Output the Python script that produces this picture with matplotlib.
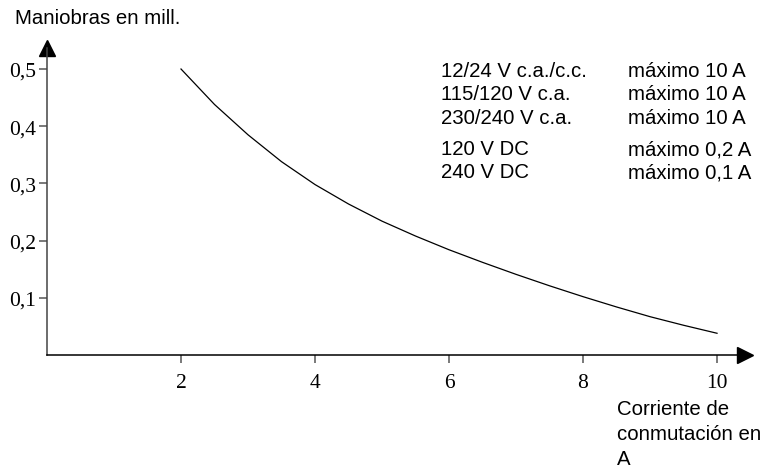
import matplotlib
matplotlib.use('Agg')
import matplotlib.pyplot as plt

# Curve (current in A -> operations in millions)
current = [2, 2.5, 3, 3.5, 4, 4.5, 5, 5.5, 6, 6.5, 7, 7.5, 8, 8.5, 9, 9.5, 10]
operations = [0.50, 0.438, 0.385, 0.338, 0.298, 0.264, 0.234, 0.208, 0.184, 0.162,
              0.141, 0.121, 0.102, 0.084, 0.067, 0.052, 0.038]

x_ticks = [2, 4, 6, 8, 10]
y_ticks = [0.1, 0.2, 0.3, 0.4, 0.5]
y_tick_labels = ['0,1', '0,2', '0,3', '0,4', '0,5']

voltages = ['12/24 V c.a./c.c.', '115/120 V c.a.', '230/240 V c.a.', '120 V DC', '240 V DC']
max_currents = ['máximo 10 A', 'máximo 10 A', 'máximo 10 A', 'máximo 0,2 A', 'máximo 0,1 A']

SANS = 'Liberation Sans'
SERIF = 'Liberation Serif'

W, H = 779, 477
fig = plt.figure(figsize=(W / 100, H / 100), dpi=100)
ax = fig.add_axes([47 / W, (H - 356) / H, (744.5 - 47) / W, (356 - 48.5) / H])

ax.plot(current, operations, color='black', linewidth=0.9)

ax.set_xlim(0, 10.41)
ax.set_ylim(0, 0.5376)

ax.spines['top'].set_visible(False)
ax.spines['right'].set_visible(False)
ax.spines['left'].set_color('#444444')
ax.spines['bottom'].set_color('black')
ax.spines['left'].set_linewidth(1.1)
ax.spines['bottom'].set_linewidth(1.1)

# arrow heads at the end of both axes
ax.plot([1], [0], marker='>', color='black', markersize=11, transform=ax.transAxes, clip_on=False)
ax.plot([0], [1], marker='^', color='black', markersize=11, transform=ax.transAxes, clip_on=False)

ax.set_xticks(x_ticks)
ax.set_xticklabels([str(t) for t in x_ticks], fontfamily=SERIF, fontsize=15.5)
ax.set_yticks(y_ticks)
ax.set_yticklabels(y_tick_labels, fontfamily=SERIF, fontsize=15.5)
ax.tick_params(axis='x', length=6, width=1.1, color='#555555', pad=7)
ax.tick_params(axis='y', length=6, width=1.1, color='#555555', pad=2)

fig.text(15 / W, (H - 24) / H, 'Maniobras en mill.', fontfamily=SANS, fontsize=14.7, va='baseline')

row_baselines = [77, 100.5, 124, 155, 178.5]
for volt, amp, yb in zip(voltages, max_currents, row_baselines):
    fig.text(441 / W, (H - yb) / H, volt, fontfamily=SANS, fontsize=14.7, va='baseline')
    fig.text(628 / W, (H - yb) / H, amp, fontfamily=SANS, fontsize=14.7, va='baseline')

fig.text(617 / W, (H - 400) / H, 'Corriente de\nconmutación en\nA', fontfamily=SANS, fontsize=14.7,
         va='top', linespacing=1.4)

fig.savefig('out.png', dpi=100)
